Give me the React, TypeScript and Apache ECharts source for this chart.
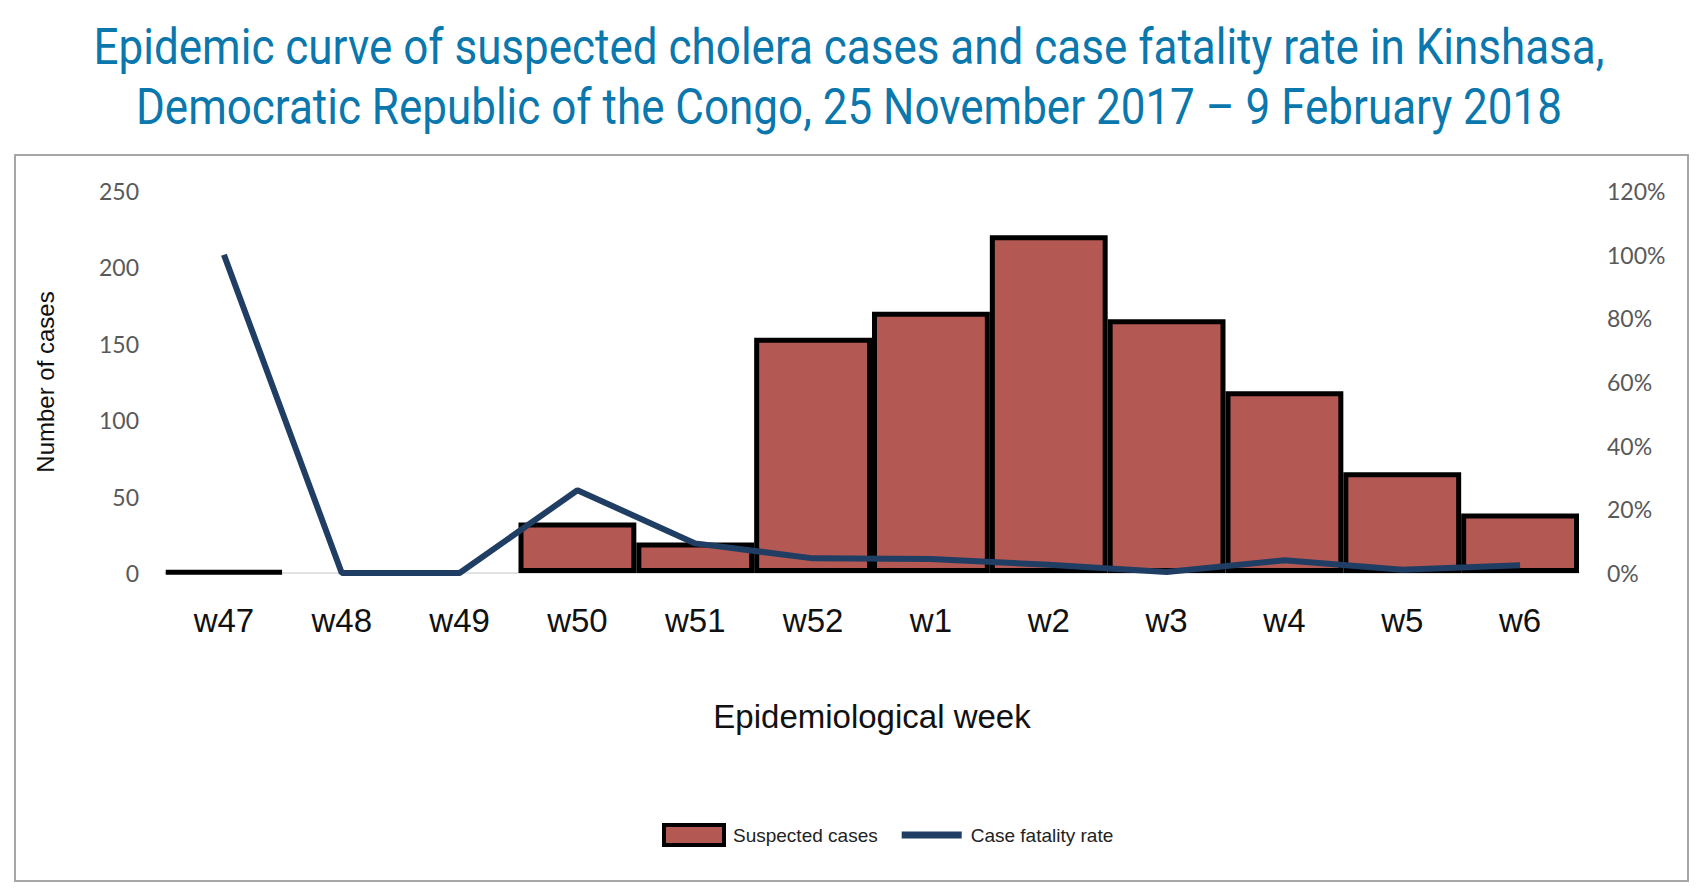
import React, { useEffect, useRef } from "react";
import * as echarts from "echarts";

const weeks = ["w47", "w48", "w49", "w50", "w51", "w52", "w1", "w2", "w3", "w4", "w5", "w6"];
const suspectedCases = [1, 0, 0, 33, 20, 154, 171, 221, 166, 119, 66, 39];
const caseFatalityRate = [100, 0, 0, 26, 9.3, 4.6, 4.4, 2.6, 0.3, 4, 1, 2.4];
const leftTicks = { min: 0, max: 250, interval: 50 };
const rightTicks = { min: 0, max: 120, interval: 20 };

const titleLines = [
  "Epidemic curve of suspected cholera cases and case fatality rate in Kinshasa,",
  "Democratic Republic of the Congo, 25 November 2017 \u2013 9 February 2018",
];

export default function App() {
  const ref = useRef<HTMLDivElement>(null);
  useEffect(() => {
    if (!ref.current) return;
    const chart = echarts.init(ref.current, undefined, { renderer: "svg" });
    const tickFont = { color: "#595959", fontSize: 23, fontFamily: "Lato, 'Open Sans', sans-serif" };
    const titleStyle = {
      fill: "#0a77ad",
      fontSize: 50,
      fontFamily: "Roboto, 'Liberation Sans', sans-serif",
      align: "center",
      verticalAlign: "middle",
    };
    chart.setOption({
      animation: false,
      backgroundColor: "#ffffff",
      graphic: [
        {
          type: "rect",
          shape: { x: 15, y: 155, width: 1673, height: 726 },
          style: { fill: "none", stroke: "#a6a6a6", lineWidth: 2 },
          z: -1,
        },
        {
          type: "group",
          x: 849,
          y: 0,
          scaleX: 0.88,
          children: titleLines.map((t, i) => ({
            type: "text",
            x: 0,
            y: 46 + i * 60,
            style: { ...titleStyle, text: t },
          })),
        },
      ],
      legend: {
        left: 657,
        top: 818,
        itemWidth: 60,
        itemHeight: 20,
        itemGap: 24,
        symbolKeepAspect: true,
        textStyle: {
          color: "#222",
          fontSize: 19,
          padding: [0, 0, 0, 4],
          fontFamily: "'Liberation Sans', Arial, sans-serif",
        },
        data: [
          { name: "Suspected cases", icon: "rect", itemStyle: { borderWidth: 4, borderColor: "#000" } },
          {
            name: "Case fatality rate",
            icon: "path://M0 0 H60 V7 H0 Z",
            itemStyle: { color: "#203d63", borderWidth: 0 },
          },
        ],
      },
      grid: { left: 165, right: 123, top: 191, bottom: 317, containLabel: false },
      xAxis: {
        type: "category",
        data: weeks,
        name: "Epidemiological week",
        nameLocation: "middle",
        nameGap: 127,
        nameTextStyle: { color: "#111", fontSize: 33, fontFamily: "'Liberation Sans', Arial, sans-serif" },
        axisLine: { show: true, lineStyle: { color: "#d9d9d9", width: 1.5 } },
        axisTick: { show: false },
        axisLabel: {
          color: "#111",
          fontSize: 33,
          margin: 31,
          fontFamily: "'Liberation Sans', Arial, sans-serif",
        },
        splitLine: { show: false },
      },
      yAxis: [
        {
          type: "value",
          min: leftTicks.min,
          max: leftTicks.max,
          interval: leftTicks.interval,
          name: "Number of cases",
          nameLocation: "middle",
          nameGap: 108,
          nameRotate: 90,
          nameTextStyle: { color: "#111", fontSize: 24, fontFamily: "'Liberation Sans', Arial, sans-serif" },
          axisLine: { show: false },
          axisTick: { show: false },
          splitLine: { show: false },
          axisLabel: { ...tickFont, margin: 26 },
        },
        {
          type: "value",
          min: rightTicks.min,
          max: rightTicks.max,
          interval: rightTicks.interval,
          position: "right",
          axisLine: { show: false },
          axisTick: { show: false },
          splitLine: { show: false },
          axisLabel: { ...tickFont, margin: 28, formatter: "{value}%" },
        },
      ],
      series: [
        {
          name: "Suspected cases",
          type: "bar",
          data: suspectedCases.map((v) => (v === 0 ? "-" : v)),
          barCategoryGap: "0%",
          itemStyle: { color: "#b35852", borderColor: "#000000", borderWidth: 5 },
          z: 2,
        },
        {
          name: "Case fatality rate",
          type: "line",
          yAxisIndex: 1,
          data: caseFatalityRate,
          symbol: "none",
          showSymbol: false,
          lineStyle: { color: "#203d63", width: 6 },
          itemStyle: { color: "#203d63" },
          z: 3,
        },
      ],
    });
    return () => chart.dispose();
  }, []);
  return <div ref={ref} style={{ position: "fixed", left: 0, top: 0, width: 1702, height: 890 }} />;
}
